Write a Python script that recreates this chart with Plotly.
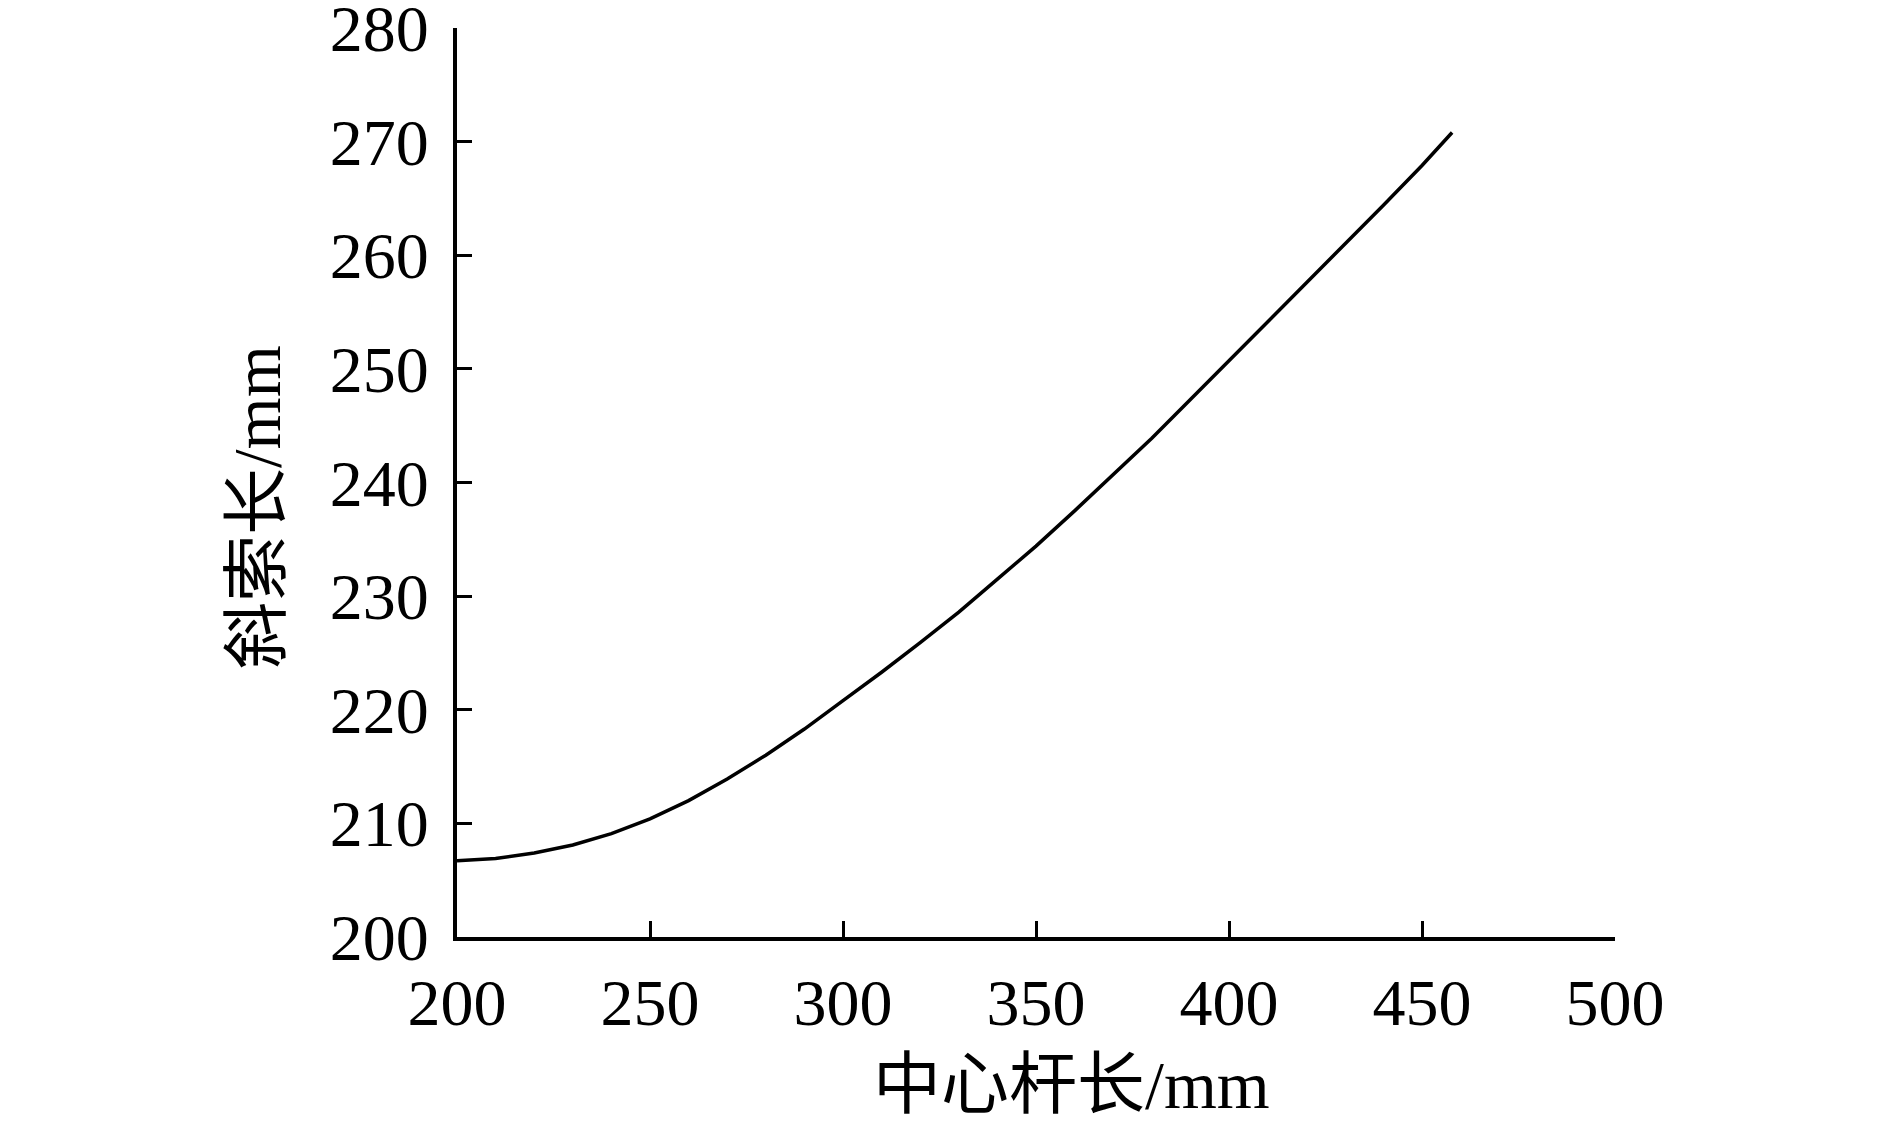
import plotly.graph_objects as go

center_rod_len = [200, 210, 220, 230, 240, 250, 260, 270, 280, 290, 300, 310, 320, 330,
                  340, 350, 360, 370, 380, 390, 400, 410, 420, 430, 440, 450, 457.8]
diag_cable_len = [206.7, 206.9, 207.4, 208.1, 209.1, 210.4, 212.0, 213.9, 216.0, 218.3,
                  220.8, 223.3, 225.9, 228.6, 231.5, 234.4, 237.5, 240.7, 243.9, 247.3,
                  250.7, 254.1, 257.5, 260.9, 264.4, 267.9, 270.8]

x_ticks = [200, 250, 300, 350, 400, 450, 500]
y_ticks = [200, 210, 220, 230, 240, 250, 260, 270, 280]

FONT = "Liberation Serif, Times New Roman, Noto Sans CJK SC, serif"

# page has an 8px body margin; plot area target: x 457..1615, y 28..936.5
L, R, T, B = 449, 283, 20, 205
PW = 1890 - L - R
PH = 1134 - T - B

fig = go.Figure()
fig.add_trace(go.Scatter(x=center_rod_len, y=diag_cable_len, mode="lines",
                         line=dict(color="black", width=3.5), line_shape="linear",
                         showlegend=False))

fig.update_layout(
    width=1890, height=1134,
    plot_bgcolor="white", paper_bgcolor="white",
    margin=dict(l=L, r=R, t=T, b=B),
    font=dict(family=FONT, color="black", size=66),
)
fig.update_xaxes(
    range=[200, 500], tickvals=x_ticks, ticktext=[str(v) for v in x_ticks],
    showline=True, linecolor="black", linewidth=4, mirror=False,
    ticks="inside", ticklen=16, tickwidth=3, tickcolor="black",
    showgrid=False, zeroline=False, automargin=False,
    tickfont=dict(family=FONT, size=66), ticklabelstandoff=5,
    ticklabeloverflow="allow",
)
fig.update_yaxes(
    range=[200, 280], tickvals=y_ticks, ticktext=[str(v) for v in y_ticks],
    showline=True, linecolor="black", linewidth=4, mirror=False,
    ticks="inside", ticklen=15, tickwidth=3, tickcolor="black",
    showgrid=False, zeroline=False, automargin=False,
    tickfont=dict(family=FONT, size=66), ticklabelstandoff=11,
    ticklabeloverflow="allow",
)

fig.add_annotation(text="中心杆长/mm", xref="paper", yref="paper",
                   x=(1071 - 457) / PW, y=-(1084 - 936) / PH,
                   xanchor="center", yanchor="middle", showarrow=False,
                   font=dict(family=FONT, size=68, color="black"))
fig.add_annotation(text="斜索长/mm", xref="paper", yref="paper",
                   x=-(457 - 257) / PW, y=(936 - 506) / PH,
                   xanchor="center", yanchor="middle", showarrow=False, textangle=-90,
                   font=dict(family=FONT, size=67, color="black"))

fig.write_html("out.html")
